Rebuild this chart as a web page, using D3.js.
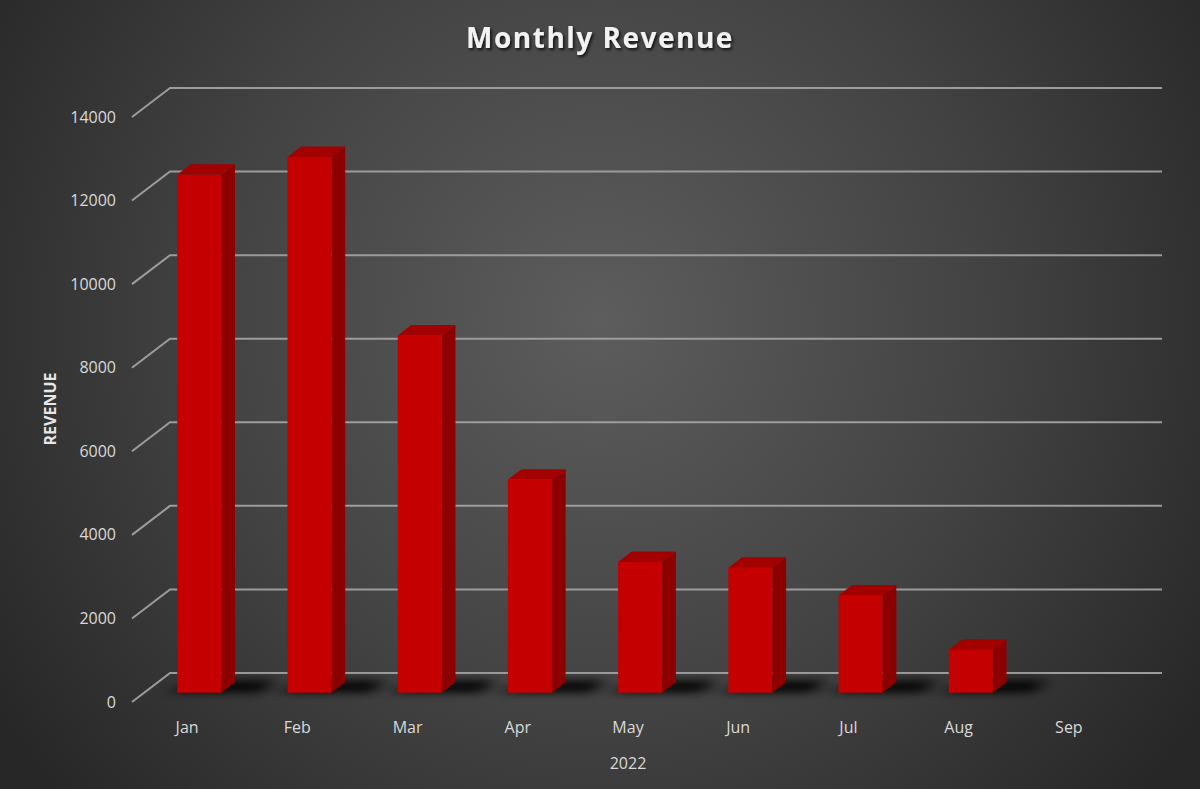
<!DOCTYPE html>
<html><head><meta charset="utf-8">
<script src="https://cdn.jsdelivr.net/npm/d3@7"></script>
<style>html,body{margin:0;padding:0;background:#333;}svg{display:block;}</style>
</head><body>
<script>
const months = ["Jan","Feb","Mar","Apr","May","Jun","Jul","Aug","Sep"];
const revenue = [12400, 12820, 8550, 5100, 3130, 2990, 2330, 1030, null];
const yTicks = [0, 2000, 4000, 6000, 8000, 10000, 12000, 14000];
const chartTitle = "Monthly Revenue";
const yTitle = "REVENUE";
const xTitle = "2022";

const W = 1200, H = 789;
const svg = d3.select("body").append("svg").attr("width", W).attr("height", H);
const defs = svg.append("defs");

const bg = defs.append("radialGradient").attr("id","bg").attr("gradientUnits","userSpaceOnUse")
  .attr("cx",600).attr("cy",320).attr("r",720);
bg.append("stop").attr("offset","0").attr("stop-color","#5d5d5d");
bg.append("stop").attr("offset","0.55").attr("stop-color","#424242");
bg.append("stop").attr("offset","1").attr("stop-color","#272727");
svg.append("rect").attr("width",W).attr("height",H).attr("fill","url(#bg)");

const blur = defs.append("filter").attr("id","blur").attr("x","-50%").attr("y","-200%").attr("width","200%").attr("height","500%");
blur.append("feGaussianBlur").attr("stdDeviation","8 4");
const ts = defs.append("filter").attr("id","ts").attr("x","-10%").attr("y","-30%").attr("width","120%").attr("height","160%");
ts.append("feDropShadow").attr("dx",1.5).attr("dy",2).attr("stdDeviation",1.5).attr("flood-color","#000").attr("flood-opacity",0.8);

// oblique projection: back wall scales + depth offset
const DX = -38, DY = 29;
const x = d3.scaleBand().domain(months).range([170, 1162]).padding(0);
const y = d3.scaleLinear().domain([0, 14000]).range([673, 88]);
const P = (xb, v, z) => [xb + DX * z, y(v) + DY * z];

// gridlines
const grid = svg.append("g").attr("stroke","#9c9c9c").attr("stroke-width",2).attr("fill","none");
yTicks.forEach(t => {
  const a = P(x.range()[0], t, 0), b = P(x.range()[1], t, 0), c = P(x.range()[0], t, 1);
  grid.append("path").attr("d", `M${c[0]},${c[1]}L${a[0]},${a[1]}L${b[0]},${b[1]}`);
});

// y tick labels (front plane)
svg.append("g").selectAll("text").data(yTicks).join("text")
  .attr("x", d => P(x.range()[0], d, 1)[0] - 16)
  .attr("y", d => P(x.range()[0], d, 1)[1])
  .attr("dy","0.35em").attr("text-anchor","end")
  .attr("font-family","Open Sans, sans-serif").attr("font-size",16).attr("fill","#d9d9d9")
  .text(d => d);

// bars
const zF = 0.68, zB = 0.32, bw = x.bandwidth() * 0.4;
const data = months.map((m, i) => ({m, v: revenue[i]})).filter(d => d.v != null);
const shadows = svg.append("g").attr("filter","url(#blur)");
data.forEach(d => {
  const xc = x(d.m) + x.bandwidth() / 2;
  const fl = P(xc - bw / 2, 0, zF), fr = P(xc + bw / 2, 0, zF), br = P(xc + bw / 2, 0, zB);
  shadows.append("path").attr("fill","#000").attr("fill-opacity",0.9)
    .attr("d", `M${fl[0]-12},${fl[1]}L${fr[0]+40},${fr[1]}L${br[0]+40},${br[1]-2}L${br[0]-30},${br[1]-2}Z`);
});
const bars = svg.append("g");
data.forEach(d => {
  const xc = x(d.m) + x.bandwidth() / 2;
  const L = xc - bw / 2, R = xc + bw / 2;
  const f0 = P(L, 0, zF), f1 = P(R, d.v, zF);
  const ftl = P(L, d.v, zF), ftr = P(R, d.v, zF), btl = P(L, d.v, zB), btr = P(R, d.v, zB);
  const fbr = P(R, 0, zF), bbr = P(R, 0, zB);
  bars.append("path").attr("fill","#8c0000")
    .attr("d", `M${ftr[0]},${ftr[1]}L${btr[0]},${btr[1]}L${bbr[0]},${bbr[1]}L${fbr[0]},${fbr[1]}Z`);
  bars.append("path").attr("fill","#a30000")
    .attr("d", `M${ftl[0]},${ftl[1]}L${btl[0]},${btl[1]}L${btr[0]},${btr[1]}L${ftr[0]},${ftr[1]}Z`);
  bars.append("rect").attr("fill","#c40000")
    .attr("x", f0[0]).attr("y", f1[1]).attr("width", bw).attr("height", f0[1] - f1[1]);
});

// x labels at front plane
svg.append("g").selectAll("text").data(months).join("text")
  .attr("x", d => P(x(d) + x.bandwidth() / 2, 0, 1)[0])
  .attr("y", 727).attr("dy","0.35em").attr("text-anchor","middle")
  .attr("font-family","Open Sans, sans-serif").attr("font-size",16).attr("fill","#d9d9d9")
  .text(d => d);

svg.append("text").attr("x", 628).attr("y", 763).attr("dy","0.35em").attr("text-anchor","middle")
  .attr("font-family","Open Sans, sans-serif").attr("font-size",16).attr("fill","#d9d9d9").text(xTitle);

svg.append("text").attr("transform","translate(50,409) rotate(-90)").attr("dy","0.35em").attr("text-anchor","middle")
  .attr("font-family","Open Sans, sans-serif").attr("font-weight","bold").attr("font-size",16).attr("fill","#e6e6e6").text(yTitle);

svg.append("text").attr("x", 600).attr("y", 38).attr("dy","0.35em").attr("text-anchor","middle")
  .attr("font-family","Open Sans, sans-serif").attr("font-weight","bold").attr("font-size",28)
  .attr("letter-spacing", 1.5).attr("fill","#f2f2f2").attr("filter","url(#ts)").text(chartTitle);
</script>
</body></html>
